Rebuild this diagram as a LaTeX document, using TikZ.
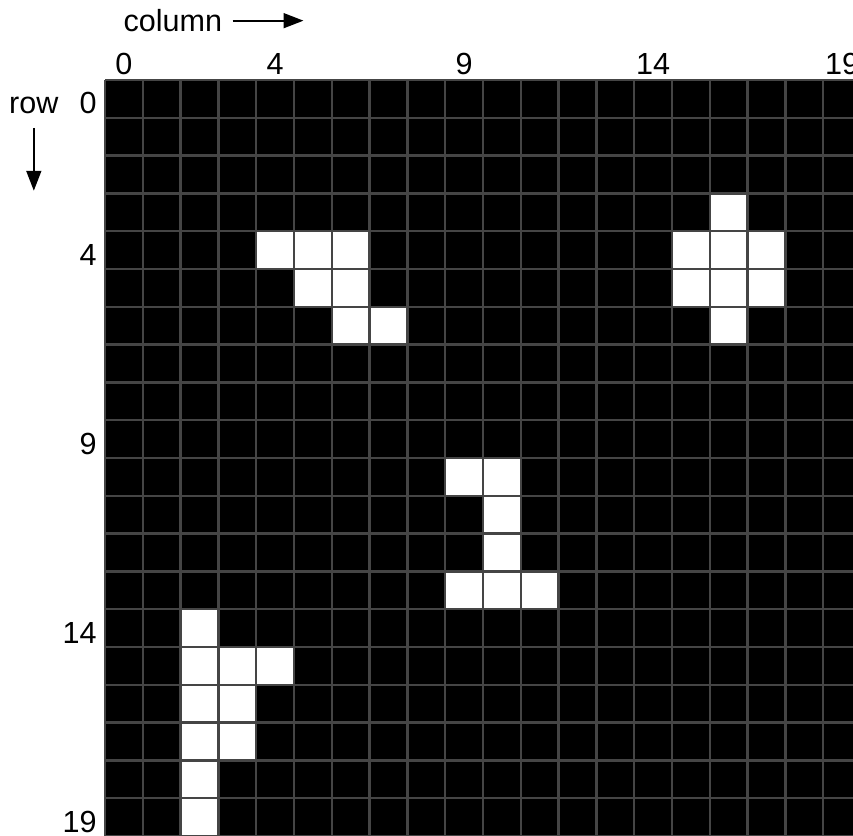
\documentclass[tikz,border=0pt]{standalone}
\usepackage{fontspec}
\setmainfont{Liberation Sans}
\usetikzlibrary{arrows.meta,positioning}
\definecolor{gridgray}{HTML}{454545}

\begin{document}
\begin{tikzpicture}[
    x=0.5cm, y=0.5cm,
    lbl/.style={font=\fontsize{11.5}{14}\selectfont, inner sep=0pt},
    gridline/.style={gridgray, line width=0.9pt},
    arr/.style={-{Triangle[length=7.5pt,width=5.6pt]}, line width=0.75pt, black}
  ]
    \clip (-2.778,2.116) rectangle (19.788,-20);

    % --- Board: black cells, white cells, grid ---
    \fill[black] (0,0) rectangle (20,-20);
    \foreach \c/\r in {16/3, 4/4,5/4,6/4,15/4,16/4,17/4,
                       5/5,6/5,15/5,16/5,17/5, 6/6,7/6,16/6,
                       9/10,10/10, 10/11, 10/12, 9/13,10/13,11/13,
                       2/14, 2/15,3/15,4/15, 2/16,3/16, 2/17,3/17, 2/18, 2/19} {
      \fill[white] (\c,-\r) rectangle ++(1,-1);
    }
    \foreach \k in {0,...,20} {
      \draw[gridline] (\k,0) -- (\k,-20);
      \draw[gridline] (0,-\k) -- (20,-\k);
    }

    % --- Indices ---
    \foreach \i in {0,4,9,14,19} {
      \node[lbl, anchor=south] (cl\i) at (\i+0.5,0.13) {\i};
      \node[lbl, anchor=east] (rl\i) at (-0.21,-\i-0.62) {\i};
    }

    % --- Axis heads ---
    \node[lbl, anchor=base west] (colhead) at (0.476,1.28) {column};
    \coordinate[right=1.07cm of colhead] (colend);
    \draw[arr, shorten <=3.8pt] (colhead) -- (colend);

    \node[lbl, base left=0.265cm of rl0] (rowhead) {row};
    \coordinate[below=1.005cm of rowhead] (rowend);
    \draw[arr, shorten <=4.9pt] (rowhead) -- (rowend);
  \end{tikzpicture}
\end{document}
